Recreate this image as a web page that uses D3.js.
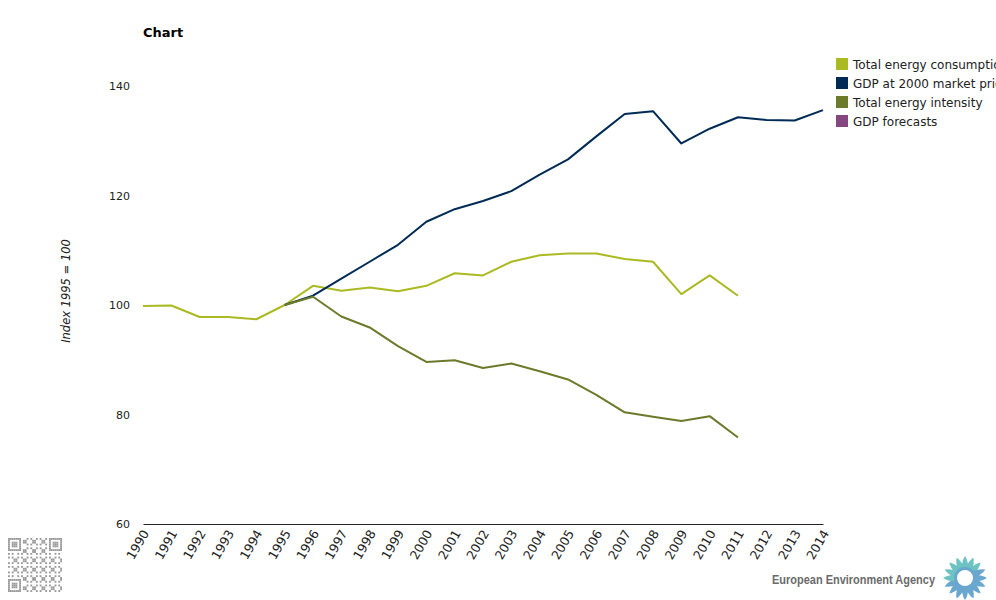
<!DOCTYPE html>
<html>
<head>
<meta charset="utf-8">
<script src="https://cdn.jsdelivr.net/npm/d3@7"></script>
<style>
  body { margin: 0; background: #fff; }
  svg { display: block; font-family: "DejaVu Sans", Verdana, sans-serif; }
</style>
</head>
<body>
<div id="chart"></div>
<script>
const years = d3.range(1990, 2015);
const consumption = [99.8, 99.9, 97.8, 97.8, 97.4, 100, 103.5, 102.6, 103.2, 102.5, 103.5, 105.8, 105.4, 107.9, 109.1, 109.4, 109.4, 108.4, 107.9, 102.0, 105.4, 101.7];
// GDP starts in 1995
const gdp = [100, 101.7, 104.8, 107.9, 111.0, 115.2, 117.5, 119.0, 120.8, 123.8, 126.6, 130.8, 134.9, 135.4, 129.5, 132.2, 134.3, 133.8, 133.7, 135.6];
const intensity = [100, 101.5, 97.9, 95.9, 92.5, 89.6, 89.9, 88.5, 89.3, 87.9, 86.4, 83.6, 80.4, 79.6, 78.8, 79.7, 75.8];
const forecasts = [];
const yTicks = [60, 80, 100, 120, 140];

const seriesNames = ["Total energy consumption", "GDP at 2000 market prices", "Total energy intensity", "GDP forecasts"];
const seriesColors = ["#abba22", "#002b54", "#6b7a2b", "#84477f"];

const width = 996, height = 600;
const svg = d3.select("#chart").append("svg")
    .attr("width", width)
    .attr("height", height);

const x = d3.scaleLinear().domain([1990, 2014]).range([143, 823]);
const y = d3.scaleLinear().domain([60, 140]).range([524, 86]);

svg.append("text")
    .attr("x", 143).attr("y", 37)
    .style("font-size", "13px").style("font-weight", "bold")
    .text("Chart");

// y axis labels only
const yAxis = svg.append("g")
    .attr("transform", "translate(130,0)")
    .call(d3.axisLeft(y).tickValues(yTicks).tickSize(0).tickPadding(0));
yAxis.select(".domain").remove();
yAxis.selectAll("text")
    .style("font-family", "DejaVu Sans, sans-serif")
    .style("font-size", "11px").attr("fill", "#222");

svg.append("text")
    .attr("transform", "translate(70,291) rotate(-90)")
    .attr("text-anchor", "middle")
    .style("font-size", "11.5px").style("font-style", "italic")
    .attr("fill", "#222")
    .text("Index 1995 = 100");

// x axis
const xAxis = svg.append("g")
    .attr("transform", "translate(0,524)")
    .call(d3.axisBottom(x).tickValues(years).tickFormat(d3.format("d")).tickSize(0).tickPadding(0));
xAxis.select(".domain").attr("stroke", "#222").attr("stroke-width", 1.2);
xAxis.selectAll("text")
    .style("font-family", "DejaVu Sans, sans-serif")
    .style("font-size", "12.5px").attr("fill", "#222")
    .attr("text-anchor", "end")
    .attr("dy", null)
    .attr("y", 0)
    .attr("transform", "translate(6,9) rotate(-60)");

const line = d3.line()
    .x(d => x(d.year))
    .y(d => y(d.value));

const data = [
    consumption.map((v, i) => ({ year: 1990 + i, value: v })),
    gdp.map((v, i) => ({ year: 1995 + i, value: v })),
    intensity.map((v, i) => ({ year: 1995 + i, value: v })),
    forecasts.map((v, i) => ({ year: 2012 + i, value: v }))
];

svg.append("g")
    .selectAll("path")
    .data(data)
    .join("path")
    .attr("fill", "none")
    .attr("stroke", (d, i) => seriesColors[i])
    .attr("stroke-width", 2)
    .attr("stroke-linejoin", "round")
    .attr("d", d => d.length ? line(d) : null);

// legend
const legend = svg.append("g")
    .attr("transform", "translate(836,58)")
    .selectAll("g")
    .data(seriesNames)
    .join("g")
    .attr("transform", (d, i) => `translate(0,${i * 19})`);
legend.append("rect")
    .attr("width", 12).attr("height", 12)
    .attr("fill", (d, i) => seriesColors[i]);
legend.append("text")
    .attr("x", 17).attr("y", 10.5)
    .style("font-size", "12px").attr("fill", "#222")
    .text(d => d);

// QR-like badge
const qr = svg.append("g").attr("transform", "translate(8,538)");
const n = 29, cell = 54 / n;
const cells = [];
for (let r = 0; r < n; r++) for (let c = 0; c < n; c++) {
    const finder = (rr, cc) => {
        const m = Math.max(Math.abs(rr - 3), Math.abs(cc - 3));
        return m <= 3 && m !== 2;
    };
    let on;
    if (r < 7 && c < 7) on = finder(r, c);
    else if (r < 7 && c >= n - 7) on = finder(r, c - (n - 7));
    else if (r >= n - 7 && c < 7) on = finder(r - (n - 7), c);
    else if (r < 8 && c < 8 || r < 8 && c >= n - 8 || r >= n - 8 && c < 8) on = false;
    else on = ((r * 7 + c * 13 + r * c * 3) % 5) < 2;
    if (on) cells.push([r, c]);
}
qr.selectAll("rect").data(cells).join("rect")
    .attr("x", d => d[1] * cell).attr("y", d => d[0] * cell)
    .attr("width", cell).attr("height", cell)
    .attr("fill", "#999");

// EEA logo
svg.append("text")
    .attr("x", 772).attr("y", 584)
    .attr("textLength", 163).attr("lengthAdjust", "spacingAndGlyphs")
    .style("font-family", "Liberation Sans, Arial, sans-serif")
    .style("font-size", "12px").style("font-weight", "bold")
    .attr("fill", "#6b6b6b")
    .text("European Environment Agency");
const logo = svg.append("g").attr("transform", "translate(965,578)");
const petals = d3.range(16);
logo.selectAll("path").data(petals).join("path")
    .attr("d", "M-3.5,-9 Q-3,-18 0,-22 Q3,-18 3.5,-9 Z")
    .attr("fill", (d, i) => (i < 3 || i > 11) ? "#6cc3c1" : "#6aa7cf")
    .attr("transform", d => `rotate(${d * 22.5})`);
logo.append("circle").attr("r", 9.5).attr("fill", "none")
    .attr("stroke", "#6aa7cf").attr("stroke-width", 3);
logo.append("circle").attr("r", 7).attr("fill", "#fff");
</script>
</body>
</html>
